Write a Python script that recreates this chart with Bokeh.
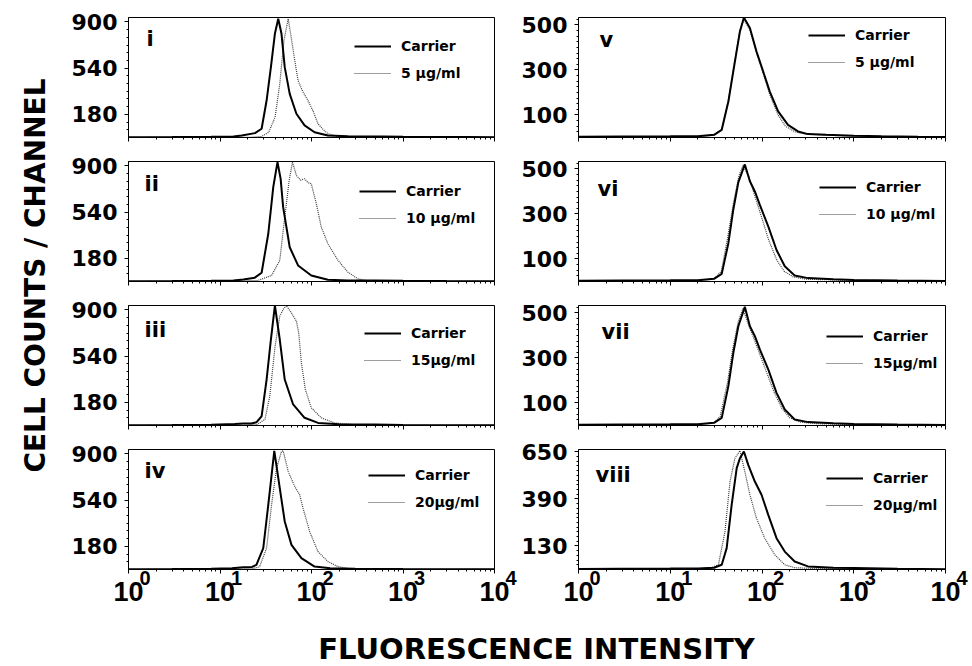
from bokeh.plotting import figure
from bokeh.models import FixedTicker, Legend, LegendItem, Label, Range1d, LogAxis, Spacer
from bokeh.layouts import row, column
from bokeh.embed import file_html
from bokeh.resources import INLINE

FONT = "DejaVu Sans"
TICK_FONT = "Liberation Sans"
NBSP = "\u00a0"

# ---------------- data ----------------
x_ticks = [1, 10, 100, 1000, 10000]
x_tick_labels = ["10", "10", "10", "10", "10"]
x_tick_exponents = ["0", "1", "2", "3", "4"]

left_y_ticks = [180, 540, 900]
right_y_ticks = [100, 300, 500]
viii_y_ticks = [130, 390, 650]

panel_names = ["i", "ii", "iii", "iv", "v", "vi", "vii", "viii"]
carrier_label = "Carrier"
treatment_labels = ["5 μg/ml", "10 μg/ml", "15μg/ml", "20μg/ml",
                    "5 μg/ml", "10 μg/ml", "15μg/ml", "20μg/ml"]

# panel i
i_carrier_x = [1, 3, 8, 14, 17.3, 24.1, 28.5, 32.3, 36, 39.8, 43.3, 47, 51, 57.8, 68.4, 84, 108, 151, 250, 347, 600, 1000, 2000, 5000, 10000]
i_carrier_y = [2, 3, 5, 8, 15, 34, 68, 288, 548, 808, 925, 808, 548, 340, 185, 94, 41, 16, 10, 8, 8, 5, 4, 3, 2]
i_treat_x = [1, 10, 22, 28.5, 34, 40, 45, 50, 55.6, 60, 65.6, 71.3, 80, 91.6, 105, 117.6, 135, 151, 194, 300, 1000, 10000]
i_treat_y = [0, 1, 2, 8, 40, 158, 418, 756, 925, 780, 600, 444, 360, 288, 200, 107, 60, 30, 8, 4, 2, 1]
# panel ii
ii_carrier_x = [1, 3, 8, 14, 18, 24, 28.5, 33.7, 38.2, 42.5, 46, 49, 57.8, 71.3, 99.5, 151, 250, 500, 1000, 3000, 10000]
ii_carrier_y = [2, 3, 5, 8, 16, 30, 68, 372, 735, 930, 800, 579, 267, 125, 47, 13, 8, 7, 5, 3, 2]
ii_treat_x = [1, 10, 26, 36.6, 45, 51, 57, 62, 68.4, 76, 84, 92, 99.5, 113, 128, 151, 195, 250, 321, 411, 1000, 10000]
ii_treat_y = [0, 1, 8, 47, 164, 501, 787, 930, 826, 790, 800, 770, 761, 605, 423, 294, 164, 73, 21, 5, 2, 1]
# panel iii
iii_carrier_x = [1, 3, 8, 14.5, 18, 22, 25, 28.5, 32.3, 36, 39.8, 45, 51, 63, 84, 118, 200, 500, 1000, 10000]
iii_carrier_y = [2, 3, 5, 12, 15, 15, 25, 72, 358, 670, 935, 670, 358, 164, 60, 20, 10, 7, 4, 2]
iii_treat_x = [1, 10, 25, 31, 35, 40, 45, 49, 53, 60.3, 68.4, 72.5, 77.5, 85.6, 99.5, 128, 178, 300, 1000, 10000]
iii_treat_y = [0, 1, 5, 47, 228, 618, 852, 904, 935, 878, 813, 722, 489, 280, 138, 60, 20, 6, 2, 1]
# panel iv
iv_carrier_x = [1, 3, 8, 13.5, 18, 22.4, 25, 29.7, 33.7, 39.2, 45, 51, 60.4, 77.5, 108, 160, 300, 1000, 10000]
iv_carrier_y = [2, 3, 5, 10, 18, 20, 36, 166, 504, 925, 634, 374, 192, 88, 23, 10, 6, 4, 2]
iv_treat_x = [1, 10, 22, 27, 32.3, 36.6, 41.5, 47, 49, 55.6, 65.6, 74.3, 80.8, 95.4, 117.6, 151, 194, 250, 400, 1000, 10000]
iv_treat_y = [0, 1, 5, 20, 166, 504, 790, 920, 925, 764, 647, 582, 478, 296, 140, 62, 23, 8, 4, 2, 1]
# panel v
v_carrier_x = [1, 3, 10, 20, 30, 36.4, 43, 50.7, 57.5, 63.5, 73.8, 87.1, 103, 121.6, 150, 192, 247, 317, 500, 1000, 2000, 5000, 10000]
v_carrier_y = [3, 4, 5, 6, 12, 34, 160, 338, 471, 533, 486, 382, 293, 204, 116, 56, 27, 15, 12, 8, 5, 3, 2]
v_treat_x = [1, 10, 20, 30, 36.4, 43, 50.7, 57.5, 63.5, 73.8, 87.1, 103, 121.6, 150, 180, 230, 300, 500, 1000, 10000]
v_treat_y = [0, 2, 4, 10, 36, 165, 345, 478, 525, 478, 375, 285, 190, 100, 50, 25, 15, 10, 6, 2]
# panel vi
vi_carrier_x = [1, 3, 10, 20, 30, 36.4, 43, 48.7, 55.2, 65, 73.8, 83.6, 94.7, 117, 144, 177, 227, 317, 600, 1000, 3000, 10000]
vi_carrier_y = [3, 4, 5, 6, 12, 34, 170, 320, 440, 520, 445, 400, 340, 245, 140, 68, 27, 15, 10, 7, 4, 2]
vi_treat_x = [1, 10, 20, 30, 36, 42, 49, 56, 62, 72, 85, 100, 118, 145, 175, 220, 300, 1000, 10000]
vi_treat_y = [0, 2, 4, 12, 45, 190, 350, 470, 515, 465, 370, 280, 185, 95, 45, 20, 10, 5, 2]
# panel vii
vii_carrier_x = [1, 3, 10, 20, 30, 36.4, 43, 48.7, 55.2, 65, 73.8, 83.6, 94.7, 117, 144, 177, 227, 317, 600, 1000, 3000, 10000]
vii_carrier_y = [3, 4, 5, 6, 12, 34, 175, 323, 441, 527, 441, 397, 338, 249, 145, 71, 27, 15, 10, 7, 4, 2]
vii_treat_x = [1, 10, 20, 30, 35, 42, 48, 55, 62, 70, 80, 92, 110, 135, 165, 200, 260, 400, 1000, 10000]
vii_treat_y = [0, 2, 4, 12, 40, 190, 340, 460, 520, 455, 395, 330, 245, 150, 75, 35, 15, 8, 4, 2]
# panel viii
viii_carrier_x = [1, 3, 10, 20, 30, 36.4, 41.2, 46.7, 53, 57.5, 63.5, 70.8, 83.6, 98.8, 117, 144, 177, 227, 317, 600, 1000, 3000, 10000]
viii_carrier_y = [3, 4, 5, 6, 10, 26, 118, 357, 560, 615, 652, 578, 486, 413, 302, 173, 99, 44, 17, 10, 8, 4, 2]
viii_treat_x = [1, 10, 20, 28, 33.5, 39.5, 44.8, 50.7, 57.5, 65, 73.8, 87.1, 107, 138, 177, 227, 400, 1000, 10000]
viii_treat_y = [0, 2, 4, 10, 26, 210, 486, 615, 656, 541, 413, 283, 173, 81, 26, 10, 5, 3, 1]

carrier_xs = [i_carrier_x, ii_carrier_x, iii_carrier_x, iv_carrier_x, v_carrier_x, vi_carrier_x, vii_carrier_x, viii_carrier_x]
carrier_ys = [i_carrier_y, ii_carrier_y, iii_carrier_y, iv_carrier_y, v_carrier_y, vi_carrier_y, vii_carrier_y, viii_carrier_y]
treat_xs = [i_treat_x, ii_treat_x, iii_treat_x, iv_treat_x, v_treat_x, vi_treat_x, vii_treat_x, viii_treat_x]
treat_ys = [i_treat_y, ii_treat_y, iii_treat_y, iv_treat_y, v_treat_y, vi_treat_y, vii_treat_y, viii_treat_y]
y_tick_sets = [left_y_ticks] * 4 + [right_y_ticks] * 3 + [viii_y_ticks]

# ---------------- layout / style ----------------
y_maxes = [935, 935, 935, 935, 533, 533, 533, 663]
minor_steps = [60, 60, 60, 60, 25, 25, 25, 26]
legend_x = [226, 231, 236, 240, 230, 241, 248, 248]
legend_y = [54, 53, 55, 57, 65, 57, 52, 54]
numeral_x = [18, 16, 16, 16, 21, 19, 23, 17]
numeral_y = [99, 98, 96, 99, 98, 93, 94, 95]

x_minor = [m * t for t in x_ticks[:-1] for m in range(2, 10)]
BOTTOM_B = 48
ROW_H = 144
BOTTOM_H = 9 + 120 + BOTTOM_B
TREAT_STYLE = dict(line_color="#3d3d3d", line_width=1.2, line_dash="1 1")


def style_axis(ax):
    ax.axis_line_color = "black"
    ax.major_tick_line_color = "black"
    ax.minor_tick_line_color = "black"
    ax.major_tick_in = 0
    ax.major_tick_out = 4
    ax.minor_tick_in = 0
    ax.minor_tick_out = 2
    ax.major_label_text_font = FONT
    ax.major_label_text_font_style = "bold"
    ax.major_label_text_color = "black"


def make_panel(k):
    left = k < 4
    bottom = k % 4 == 3
    p = figure(width=450 if left else 453, height=BOTTOM_H if bottom else ROW_H,
               x_axis_type="log", x_range=Range1d(x_ticks[0], x_ticks[-1]),
               y_range=Range1d(0, y_maxes[k]),
               toolbar_location=None, output_backend="svg",
               min_border_left=58, min_border_right=24 if left else 26,
               min_border_top=9, min_border_bottom=BOTTOM_B if bottom else 15)
    p.background_fill_color = "white"
    p.border_fill_color = "white"
    p.outline_line_color = "black"
    p.outline_line_alpha = 1.0
    p.outline_line_width = 1
    p.xgrid.visible = False
    p.ygrid.visible = False

    yt = y_tick_sets[k]
    ymin_ticks = list(range(minor_steps[k], y_maxes[k], minor_steps[k]))
    p.yaxis.ticker = FixedTicker(ticks=yt, minor_ticks=ymin_ticks)
    p.xaxis.ticker = FixedTicker(ticks=x_ticks, minor_ticks=x_minor)
    style_axis(p.xaxis[0])
    style_axis(p.yaxis[0])
    p.yaxis.major_label_text_font_size = "22px"
    p.yaxis.major_label_standoff = 7

    p.xaxis.major_label_overrides = {t: "" for t in x_ticks}
    p.xaxis.major_label_text_font_size = "0px"
    p.xaxis.major_label_standoff = 0

    if bottom:
        # exponent row (raised, to the right of "10") and base row ("10")
        exp_axis = LogAxis(ticker=FixedTicker(ticks=x_ticks, minor_ticks=[]))
        base_axis = LogAxis(ticker=FixedTicker(ticks=x_ticks, minor_ticks=[]))
        exp_text = [NBSP * 6 + e for e in x_tick_exponents]
        for ax, labels, size, standoff in ((exp_axis, exp_text, "20px", -7),
                                           (base_axis, x_tick_labels, "27px", -10)):
            style_axis(ax)
            ax.major_label_text_font = TICK_FONT
            ax.axis_line_color = None
            ax.major_tick_line_color = None
            ax.minor_tick_line_color = None
            ax.major_tick_out = 0
            ax.minor_tick_out = 0
            ax.major_label_overrides = {t: lab for t, lab in zip(x_ticks, labels)}
            ax.major_label_text_font_size = size
            ax.major_label_standoff = standoff
            p.add_layout(ax, "below")

    r_t = p.line(treat_xs[k], treat_ys[k], **TREAT_STYLE)
    r_c = p.line(carrier_xs[k], carrier_ys[k], line_color="black", line_width=2)

    legend = Legend(items=[LegendItem(label=carrier_label, renderers=[r_c]),
                           LegendItem(label=treatment_labels[k], renderers=[r_t])],
                    location=(legend_x[k], legend_y[k]))
    legend.padding = 0
    legend.margin = 0
    legend.spacing = 7
    legend.glyph_width = 37
    legend.glyph_height = 20
    legend.label_height = 20
    legend.label_standoff = 10
    legend.label_text_font = FONT
    legend.label_text_font_style = "bold"
    legend.label_text_font_size = "14px"
    legend.label_text_color = "black"
    legend.background_fill_alpha = 0
    legend.border_line_alpha = 0
    p.add_layout(legend)

    p.add_layout(Label(x=numeral_x[k], y=numeral_y[k], x_units="screen", y_units="screen",
                       text=panel_names[k], text_font=FONT, text_font_size="21px",
                       text_font_style="bold", text_color="black",
                       text_baseline="middle"))
    return p


panels = [make_panel(k) for k in range(8)]

GRID_H = 8 + 3 * ROW_H + BOTTOM_H

yfig = figure(width=68, height=GRID_H, x_range=Range1d(0, 1), y_range=Range1d(0, 1),
              toolbar_location=None, output_backend="svg", min_border=0,
              x_axis_location=None, y_axis_location=None)
yfig.outline_line_color = None
yfig.xgrid.visible = False
yfig.ygrid.visible = False
yfig.add_layout(Label(x=35, y=GRID_H - 275, x_units="screen", y_units="screen",
                      text="CELL COUNTS / CHANNEL", angle=90, angle_units="deg",
                      text_font=FONT, text_font_size="28px", text_font_style="bold",
                      text_color="black", text_align="center", text_baseline="middle"))

XF_H = 666 - GRID_H
xfig = figure(width=971, height=XF_H, x_range=Range1d(0, 1), y_range=Range1d(0, 1),
              toolbar_location=None, output_backend="svg", min_border=0,
              x_axis_location=None, y_axis_location=None)
xfig.outline_line_color = None
xfig.xgrid.visible = False
xfig.ygrid.visible = False
xfig.add_layout(Label(x=536, y=18, x_units="screen", y_units="screen",
                      text="FLUORESCENCE INTENSITY",
                      text_font=FONT, text_font_size="29px", text_font_style="bold",
                      text_color="black", text_align="center", text_baseline="middle"))

layout = column(row(yfig,
                    column(Spacer(width=450, height=8), *panels[:4]),
                    column(Spacer(width=453, height=8), *panels[4:])),
                xfig)

open("out.html", "w").write(file_html(layout, INLINE))
